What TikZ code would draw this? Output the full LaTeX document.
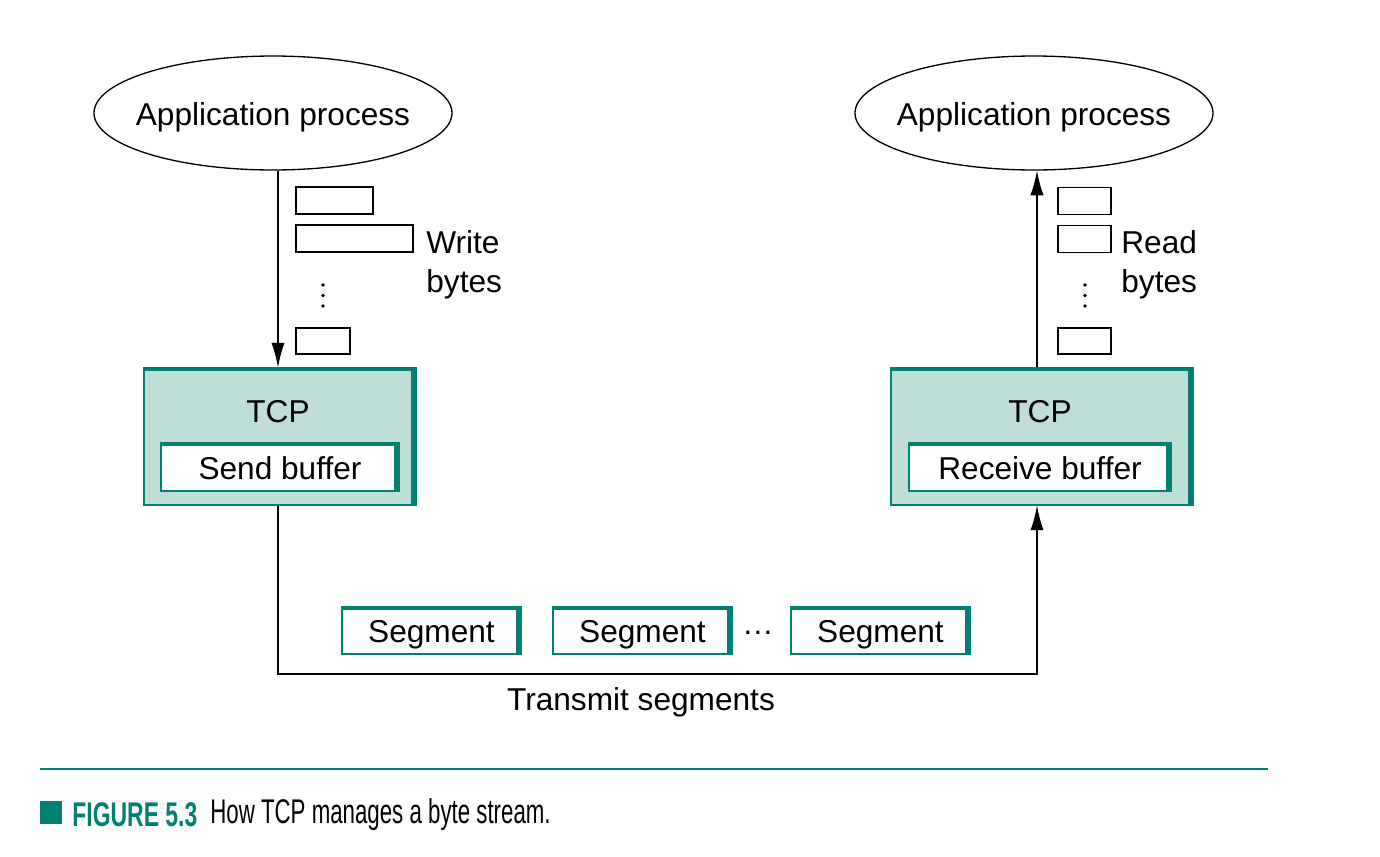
\documentclass[tikz,border=0pt]{standalone}
\usepackage{fontspec}
\setmainfont{Liberation Sans}
\newfontfamily\capfont[FakeStretch=0.65]{Liberation Sans}
\newfontfamily\capnumfont[FakeStretch=0.67]{Liberation Sans}
\usetikzlibrary{arrows.meta}
\usetikzlibrary{shapes.geometric}
\tikzset{>={Latex[length=14pt,width=7.5pt]}}
\definecolor{tealdark}{RGB}{0,128,115}
\definecolor{teallight}{RGB}{192,222,216}

\begin{document}
\begin{tikzpicture}[x=0.02cm, y=-0.02cm]
            \tikzset{
                label/.style={font=\fontsize{18}{22}\selectfont, inner sep=0pt, text height=14pt, text depth=0pt},
                app/.style={label, ellipse, draw, line width=0.75pt, inner xsep=-6pt, inner ysep=0pt, minimum width=7.12cm, minimum height=2.28cm},
                chunk/.style={draw, line width=0.75pt, inner sep=0pt, minimum height=0.54cm},
                tcpbox/.style={draw=tealdark, fill=teallight, line width=0.7pt, inner sep=0pt, minimum height=2.74cm},
                bufbox/.style={label, draw=tealdark, fill=white, line width=0.7pt, minimum height=0.96cm},
                segbox/.style={label, draw=tealdark, fill=white, line width=0.7pt, minimum width=3.58cm, minimum height=0.94cm},
                topedge/.style={tealdark, line width=2.2pt},
                sideedge/.style={tealdark, line width=3.4pt},
                conn/.style={line width=0.75pt}
            }
            \useasboundingbox (0, 0) rectangle (1380, 856);
            % application processes
            \node[app] (appL) at (273, 113) {Application process};
            \node[app] (appR) at (1034, 113) {Application process};
            % tcp entities with their buffers
            \node[tcpbox, minimum width=5.44cm] (tcpL) at (280, 436.5) {};
            \node[tcpbox, minimum width=6.04cm] (tcpR) at (1042, 436.5) {};
            \node[label] (tcpLtext) at (278, 410) {TCP};
            \node[label] (tcpRtext) at (1040, 410) {TCP};
            \node[bufbox, minimum width=4.76cm] (sendbuf) at (280, 467) {Send buffer};
            \node[bufbox, minimum width=5.24cm] (recvbuf) at (1040, 467) {Receive buffer};
            % segments in flight
            \node[segbox] (seg1) at (431.5, 630.5) {Segment};
            \node[segbox] (seg2) at (642.5, 630.5) {Segment};
            \node[label] (segdots) at (758, 630.5) {\raisebox{5pt}{…}};
            \node[segbox] (seg3) at (880.5, 630.5) {Segment};
            \foreach \n in {tcpL, tcpR, sendbuf, recvbuf, seg1, seg2, seg3} {
                \draw[topedge] ([yshift=-0.75pt]\n.north west) -- ([yshift=-0.75pt]\n.north east);
                \draw[sideedge] ([xshift=-1.4pt]\n.north east) -- ([xshift=-1.4pt]\n.south east);
            }
            % bytes written and read
            \node[chunk, minimum width=1.54cm] (wb1) at (334.5, 200.5) {};
            \node[chunk, minimum width=2.34cm] (wb2) at (354.5, 238.5) {};
            \node[chunk, minimum width=1.08cm, minimum height=0.52cm] (wb3) at (323, 341) {};
            \node[font=\fontsize{18}{22}\selectfont, anchor=west, align=left, inner sep=0pt] (writelbl) at (426, 265) {Write\\bytes};
            \node[chunk, minimum width=1.06cm] (rb1) at (1084.5, 201) {};
            \node[chunk, minimum width=1.06cm] (rb2) at (1084.5, 239) {};
            \node[chunk, minimum width=1.06cm, minimum height=0.52cm] (rb3) at (1084.5, 341) {};
            \node[font=\fontsize{18}{22}\selectfont, anchor=west, align=left, inner sep=0pt] (readlbl) at (1121, 265) {Read\\bytes};
            \foreach \y in {285, 295.5, 306} {
                \fill (323, \y) circle (1.1pt);
                \fill (1085, \y) circle (1.1pt);
            }
            % connectors
            \coordinate (rx) at (1037, 0);
            \coordinate (base) at (0, 674);
            \draw[conn, ->] (appL.south -| tcpLtext) -- (tcpL.north -| tcpLtext);
            \draw[conn, ->] (tcpR.north -| rx) -- (appR.south -| rx);
            \draw[conn, ->] (tcpL.south -| tcpLtext) -- (base -| tcpLtext) -- (base -| rx) -- (tcpR.south -| rx);
            \node[label] (transmit) at (641, 698) {Transmit segments};
            % caption
            \draw[tealdark, line width=1.1pt] (40, 769) -- (1268, 769);
            \node[fill=tealdark, inner sep=0pt, minimum width=0.44cm, minimum height=0.46cm] (capbox) at (51, 812.5) {};
            \node[anchor=west, inner sep=0pt, text=tealdark, font=\capnumfont\bfseries\fontsize{19.5}{22}\selectfont] (capnum) at (72, 815) {FIGURE 5.3};
            \node[anchor=west, inner sep=0pt, font=\capfont\fontsize{19.5}{22}\selectfont] (captext) at (210, 815) {How TCP manages a byte stream.};
        \end{tikzpicture}
\end{document}
